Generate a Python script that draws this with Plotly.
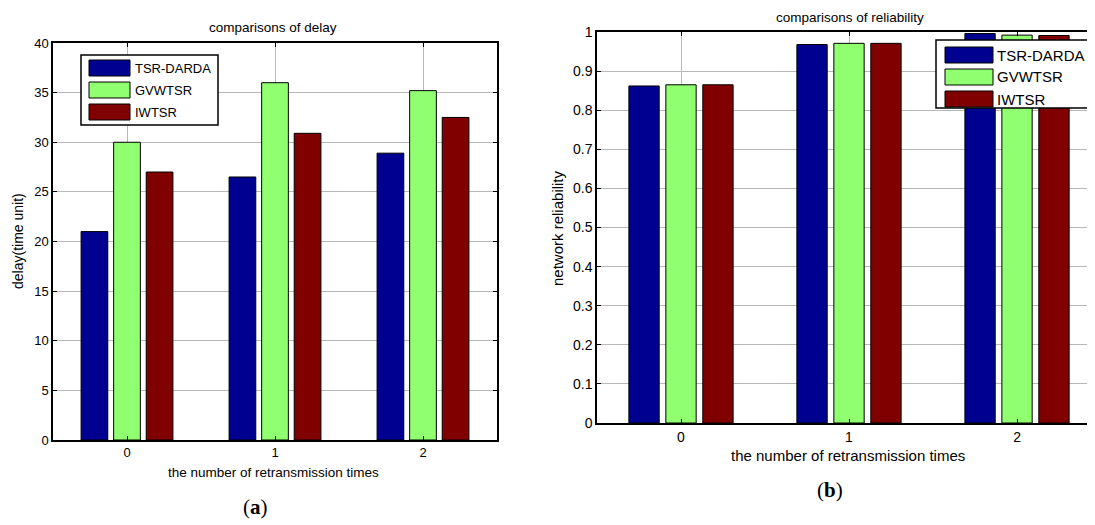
import plotly.graph_objects as go

# The page body has an 8px default margin, so the figure is drawn 8px in from the corner.
OFF = 8
W, H = 1095 - OFF, 525 - OFF

categories = [0, 1, 2]
cat_labels = ["0", "1", "2"]
series_names = ["TSR-DARDA", "GVWTSR", "IWTSR"]
colors = ["#000090", "#90ff70", "#800000"]

delay_tsr = [21.0, 26.5, 28.9]
delay_gvw = [30.0, 36.0, 35.2]
delay_iwt = [27.0, 30.9, 32.5]

rel_tsr = [0.862, 0.968, 0.996]
rel_gvw = [0.865, 0.971, 0.992]
rel_iwt = [0.865, 0.971, 0.991]

delay_ticks = [0, 5, 10, 15, 20, 25, 30, 35, 40]
rel_ticks = [0, 0.1, 0.2, 0.3, 0.4, 0.5, 0.6, 0.7, 0.8, 0.9, 1]
rel_tick_text = ["0", "0.1", "0.2", "0.3", "0.4", "0.5", "0.6", "0.7", "0.8", "0.9", "1"]


def px(x):
    return (x - OFF) / W


def py(y):
    return 1 - (y - OFF) / H


FONT = "Liberation Sans, Arial, sans-serif"
fig = go.Figure()

for name, vals, col in zip(series_names, [delay_tsr, delay_gvw, delay_iwt], colors):
    fig.add_trace(go.Bar(x=categories, y=vals, name=name, marker_color=col,
                         marker_line_color="#000000", marker_line_width=1,
                         xaxis="x", yaxis="y", showlegend=False, offsetgroup=name + "a"))
for name, vals, col in zip(series_names, [rel_tsr, rel_gvw, rel_iwt], colors):
    fig.add_trace(go.Bar(x=categories, y=vals, name=name, marker_color=col,
                         marker_line_color="#000000", marker_line_width=1,
                         xaxis="x2", yaxis="y2", showlegend=False, offsetgroup=name + "b"))

axis_common = dict(showline=True, linecolor="#000000", linewidth=1.5, mirror="ticks",
                   ticks="inside", ticklen=4, tickcolor="#000000", showgrid=True,
                   gridcolor="#b8b8b8", gridwidth=1, zeroline=False, automargin=False)

fig.update_layout(
    width=W, height=H, margin=dict(l=0, r=0, t=0, b=0, autoexpand=False),
    paper_bgcolor="white", plot_bgcolor="white",
    barmode="group", bargap=0.34, bargroupgap=0.18,
    font=dict(family=FONT, color="#000000"),
    xaxis=dict(domain=[px(53), px(497)], range=[-0.5, 2.5], tickvals=categories,
               ticktext=cat_labels, anchor="y", tickfont=dict(size=13), **axis_common),
    yaxis=dict(domain=[py(440), py(43)], range=[0, 40], tickvals=delay_ticks,
               anchor="x", tickfont=dict(size=13), **axis_common),
    xaxis2=dict(domain=[px(597), 1], range=[-0.5, 2.5 - 6 / 167.5], tickvals=categories,
                ticktext=cat_labels, anchor="y2", tickfont=dict(size=14), **axis_common),
    yaxis2=dict(domain=[py(423), py(32)], range=[0, 1], tickvals=rel_ticks,
                ticktext=rel_tick_text, anchor="x2", tickfont=dict(size=14), **axis_common),
)

ann = []


def text(x, y, s, size, **kw):
    d = dict(x=px(x), y=py(y), xref="paper", yref="paper", text=s, showarrow=False,
             font=dict(size=size, family=kw.pop("family", FONT), color="#000000"),
             xanchor=kw.pop("xanchor", "center"), yanchor=kw.pop("yanchor", "middle"),
             borderpad=0)
    d.update(kw)
    ann.append(d)


text(273, 27, "comparisons of delay", 13.5)
text(850, 17, "comparisons of reliability", 13.5)
text(273, 472, "the number of retransmission times", 13.5)
text(848, 455, "the number of retransmission times", 15)
text(18, 241, "delay(time unit)", 14, textangle=-90)
text(558, 228, "network reliability", 15, textangle=-90)
text(255, 507, "(<b>a</b>)", 21, family="Liberation Serif, DejaVu Serif, serif")
text(830, 490, "(<b>b</b>)", 21, family="Liberation Serif, DejaVu Serif, serif")

shapes = []
# left legend
shapes.append(dict(type="rect", xref="paper", yref="paper", x0=px(81), x1=px(218),
                   y0=py(125), y1=py(55), line=dict(color="#000000", width=1.5),
                   fillcolor="white", layer="above"))
for i, (name, col) in enumerate(zip(series_names, colors)):
    yc = 68 + i * 22
    shapes.append(dict(type="rect", xref="paper", yref="paper", x0=px(89), x1=px(130),
                       y0=py(yc + 8), y1=py(yc - 8), line=dict(color="#000000", width=1),
                       fillcolor=col, layer="above"))
    text(134, yc, name, 13, xanchor="left")
# right legend
shapes.append(dict(type="rect", xref="paper", yref="paper", x0=px(936), x1=px(1090),
                   y0=py(108), y1=py(40), line=dict(color="#000000", width=1.5),
                   fillcolor="white", layer="above"))
for i, (name, col) in enumerate(zip(series_names, colors)):
    yc = 55 + i * 22
    shapes.append(dict(type="rect", xref="paper", yref="paper", x0=px(945), x1=px(993),
                       y0=py(yc + 8), y1=py(yc - 8), line=dict(color="#000000", width=1),
                       fillcolor=col, layer="above"))
    text(996, yc, name, 15, xanchor="left")

fig.update_layout(annotations=ann, shapes=shapes)
fig.write_html("out.html")
